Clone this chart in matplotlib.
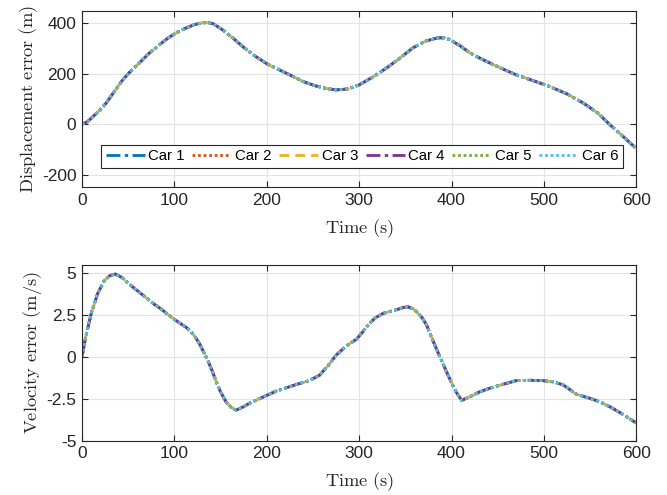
import matplotlib
matplotlib.use("Agg")
import matplotlib.pyplot as plt
from matplotlib.ticker import FixedLocator, FixedFormatter

plt.rcParams["font.family"] = ["Liberation Sans", "DejaVu Sans"]
plt.rcParams["mathtext.fontset"] = "cm"

# Displacement error (m) over time (s)
disp_time = [0, 6, 11.5, 19, 26, 35, 44, 53, 62, 73, 84, 93, 102, 112, 122, 131,
             137, 142, 152, 163, 174, 185, 200, 214, 227, 239, 252, 264, 275, 288,
             300, 315, 330, 345, 358, 372, 385, 392, 398, 409, 420, 434, 452, 470,
             489, 506, 525, 543, 558, 572, 586, 600]
disp_err = [0, 10, 29, 55, 83, 130, 176, 212, 243, 283, 316, 342, 363, 381, 396, 403,
            403, 399, 375, 343, 308, 276, 240, 215, 192, 170, 153, 142, 136, 140,
            156, 188, 224, 265, 303, 330, 343, 343, 336, 312, 283, 256, 225, 196,
            172, 150, 120, 83, 45, -4, -50, -97]

# Velocity error (m/s) over time (s)
vel_time = [0, 4, 10, 17, 24, 30, 36, 43, 51, 60, 69, 78, 87, 96, 105, 113, 118,
            123, 127, 132, 136, 141, 145, 150, 156, 162, 167, 174, 181, 190, 200,
            210, 221, 232, 246, 257, 266, 275, 286, 297, 304, 311, 318, 326, 334,
            341, 348, 353, 358, 362, 368, 373, 380, 387, 393, 400, 405, 411, 415,
            420, 430, 441, 455, 470, 485, 499, 511, 521, 528, 534, 542, 550, 561,
            572, 586, 600]
vel_err = [0, 1.2, 2.6, 3.8, 4.55, 4.85, 4.95, 4.75, 4.35, 3.95, 3.55, 3.15, 2.8,
           2.4, 2.05, 1.75, 1.5, 1.15, 0.8, 0.25, -0.2, -0.85, -1.45, -2.1, -2.7,
           -3.05, -3.18, -3.0, -2.78, -2.55, -2.3, -2.05, -1.85, -1.65, -1.42, -1.1,
           -0.55, 0.1, 0.65, 1.05, 1.5, 2.0, 2.35, 2.6, 2.72, 2.83, 2.95, 2.99, 2.88,
           2.7, 2.35, 1.9, 0.95, 0.05, -0.7, -1.55, -2.1, -2.6, -2.5, -2.38, -2.1,
           -1.88, -1.65, -1.42, -1.4, -1.42, -1.5, -1.68, -1.95, -2.2, -2.35, -2.48,
           -2.7, -3.0, -3.45, -3.95]

cars = ["Car 1", "Car 2", "Car 3", "Car 4", "Car 5", "Car 6"]
car_colors = ["#0072BD", "#D95319", "#EDB120", "#7E2F8E", "#77AC30", "#4DBEEE"]
# dash patterns (in units of line width)
dashdot = (0, (7, 1, 1, 1))
dotted = (0, (1, 1))
dashed = (0, (3.5, 2.2))
car_styles = [dashdot, dotted, dashed, dashdot, dotted, dotted]

# legend handles use the usual, more open patterns
legend_styles = [(0, (5, 1.6, 1.2, 1.6)), (0, (1, 1)), (0, (3.5, 2.2)),
                 (0, (5, 1.6, 1.2, 1.6)), (0, (1, 1)), (0, (1, 1))]

x_ticks = [0, 100, 200, 300, 400, 500, 600]
disp_ticks = [-200, 0, 200, 400]
disp_tick_labels = ["-200", "0", "200", "400"]
vel_ticks = [-5, -2.5, 0, 2.5, 5]
vel_tick_labels = ["-5", "-2.5", "0", "2.5", "5"]

fig = plt.figure(figsize=(6.67, 4.95), dpi=100)
ax1 = fig.add_axes([0.123, 0.622, 0.831, 0.356])
ax2 = fig.add_axes([0.123, 0.110, 0.831, 0.355])

label_font = dict(fontsize=13.3, color="#262626")


def style_axes(ax):
    ax.grid(True, color="#e3e3e3", linewidth=0.8)
    ax.set_axisbelow(True)
    for s in ax.spines.values():
        s.set_color("#262626")
        s.set_linewidth(0.8)
    ax.tick_params(direction="in", length=4, width=0.8, top=True, right=True,
                   labelsize=12.5, colors="#262626", pad=4)
    ax.set_xlim(0, 600)
    ax.xaxis.set_major_locator(FixedLocator(x_ticks))


lines = []
for name, c, ls in zip(cars, car_colors, car_styles):
    ln, = ax1.plot(disp_time, disp_err, color=c, linestyle=ls, linewidth=2.0, label=name)
    ax2.plot(vel_time, vel_err, color=c, linestyle=ls, linewidth=2.0, label=name)
    lines.append(ln)

style_axes(ax1)
ax1.set_ylim(-250, 450)
ax1.yaxis.set_major_locator(FixedLocator(disp_ticks))
ax1.yaxis.set_major_formatter(FixedFormatter(disp_tick_labels))
ax1.set_xlabel(r"$\mathrm{Time\ (s)}$", labelpad=7, **label_font)
ax1.set_ylabel(r"$\mathrm{Displacement\ error\ (m)}$", labelpad=1, **label_font)

style_axes(ax2)
ax2.set_ylim(-5, 5.5)
ax2.yaxis.set_major_locator(FixedLocator(vel_ticks))
ax2.yaxis.set_major_formatter(FixedFormatter(vel_tick_labels))
ax2.set_xlabel(r"$\mathrm{Time\ (s)}$", labelpad=7, **label_font)
ax2.set_ylabel(r"$\mathrm{Velocity\ error\ (m/s)}$", labelpad=2, **label_font)

leg = ax1.legend(loc="center", bbox_to_anchor=(0.505, 0.176), ncol=6, fontsize=10.8,
                 frameon=True, fancybox=False, edgecolor="#262626", framealpha=1,
                 handlelength=2.6, handletextpad=0.25, columnspacing=0.5,
                 borderpad=0.3, borderaxespad=0)
leg.get_frame().set_linewidth(0.8)
for h, ls in zip(leg.get_lines(), legend_styles):
    h.set_linestyle(ls)

fig.savefig("out.png", dpi=100)
